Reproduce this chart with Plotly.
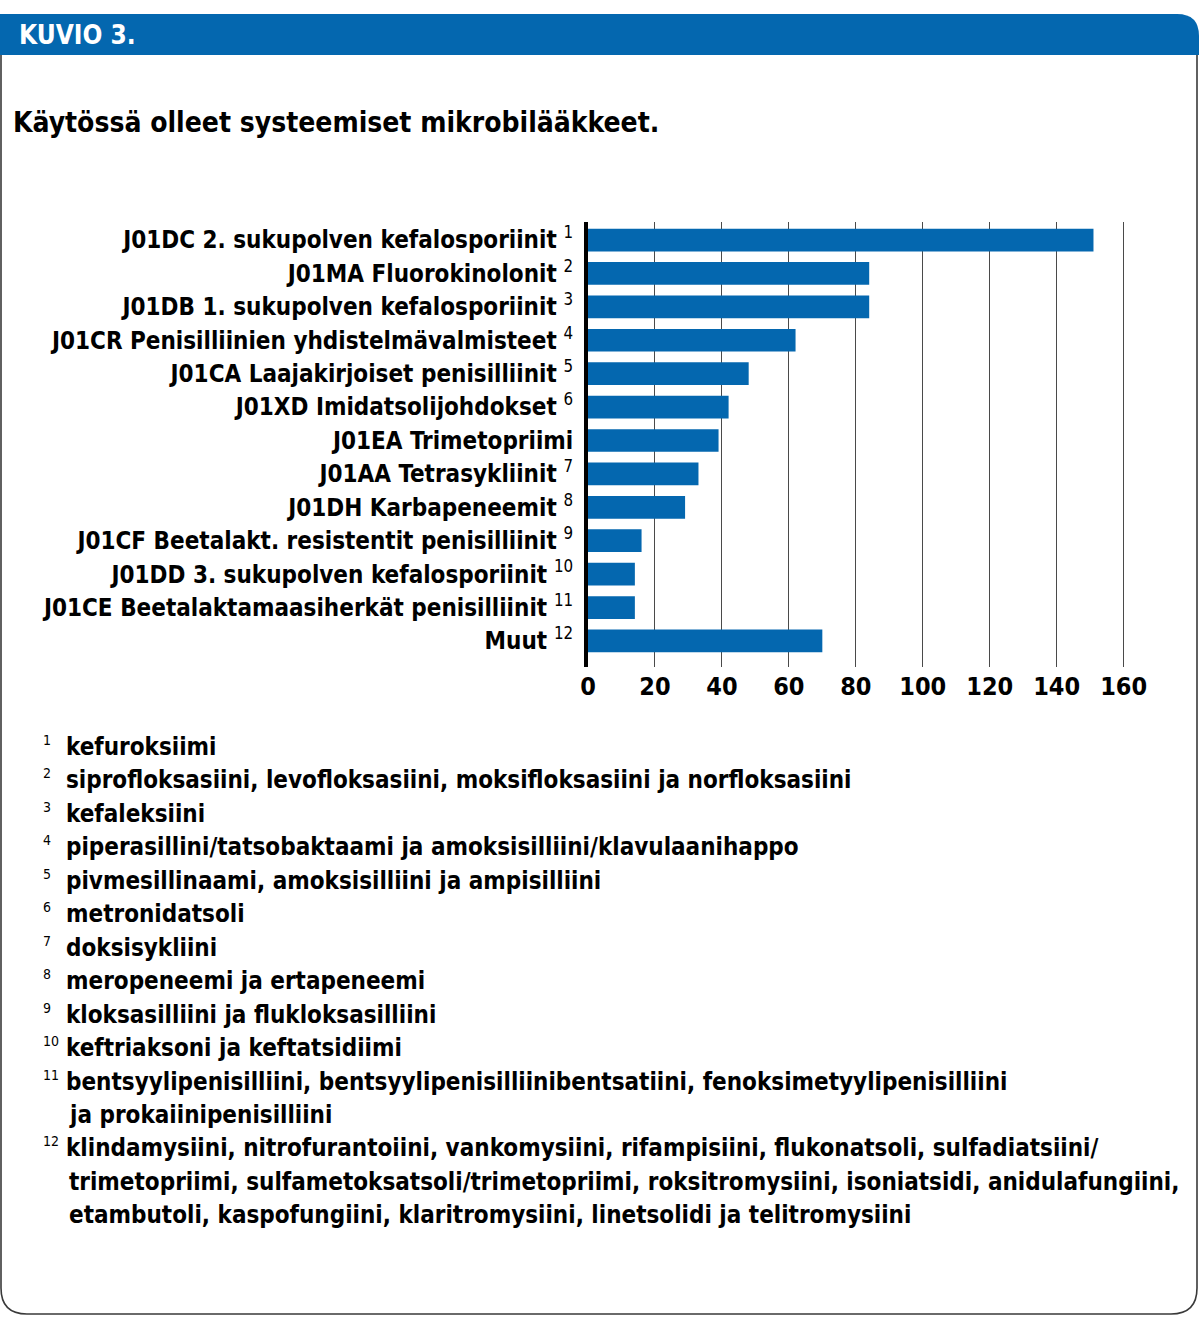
import plotly.graph_objects as go

# ---------------- data ----------------
categories = [
    "J01DC 2. sukupolven kefalosporiinit",
    "J01MA Fluorokinolonit",
    "J01DB 1. sukupolven kefalosporiinit",
    "J01CR Penisilliinien yhdistelmävalmisteet",
    "J01CA Laajakirjoiset penisilliinit",
    "J01XD Imidatsolijohdokset",
    "J01EA Trimetopriimi",
    "J01AA Tetrasykliinit",
    "J01DH Karbapeneemit",
    "J01CF Beetalakt. resistentit penisilliinit",
    "J01DD 3. sukupolven kefalosporiinit",
    "J01CE Beetalaktamaasiherkät penisilliinit",
    "Muut",
]
category_marks = ["1", "2", "3", "4", "5", "6", "", "7", "8", "9", "10", "11", "12"]
values = [151, 84, 84, 62, 48, 42, 39, 33, 29, 16, 14, 14, 70]
x_ticks = [0, 20, 40, 60, 80, 100, 120, 140, 160]

footnote_marks = ["1", "2", "3", "4", "5", "6", "7", "8", "9", "10", "11", "12"]
footnote_lines = [
    ["kefuroksiimi"],
    ["siprofloksasiini, levofloksasiini, moksifloksasiini ja norfloksasiini"],
    ["kefaleksiini"],
    ["piperasillini/tatsobaktaami ja amoksisilliini/klavulaanihappo"],
    ["pivmesillinaami, amoksisilliini ja ampisilliini"],
    ["metronidatsoli"],
    ["doksisykliini"],
    ["meropeneemi ja ertapeneemi"],
    ["kloksasilliini ja flukloksasilliini"],
    ["keftriaksoni ja keftatsidiimi"],
    ["bentsyylipenisilliini, bentsyylipenisilliinibentsatiini, fenoksimetyylipenisilliini",
     "ja prokaiinipenisilliini"],
    ["klindamysiini, nitrofurantoiini, vankomysiini, rifampisiini, flukonatsoli, sulfadiatsiini/",
     "trimetopriimi, sulfametoksatsoli/trimetopriimi, roksitromysiini, isoniatsidi, anidulafungiini,",
     "etambutoli, kaspofungiini, klaritromysiini, linetsolidi ja telitromysiini"],
]

header_text = "KUVIO 3."
title_text = "Käytössä olleet systeemiset mikrobilääkkeet."

# ---------------- style ----------------
W, H = 1199, 1319
FONT = "DejaVu Sans Condensed, Liberation Sans Narrow, sans-serif"
BLUE = "#0467af"


def px(x):
    return x / W


def py(y):
    return 1 - y / H


tick_text = [
    f"<b>{c}</b>" + (f" <sup>{m}</sup>" if m else "") for c, m in zip(categories, category_marks)
]

fig = go.Figure()
fig.add_trace(go.Bar(
    x=values,
    y=categories,
    orientation="h",
    marker=dict(color=BLUE, line=dict(width=0)),
    width=0.68,
    hoverinfo="x+y",
))

fig.update_layout(
    width=W,
    height=H,
    autosize=False,
    margin=dict(l=0, r=0, t=0, b=0, autoexpand=False),
    paper_bgcolor="white",
    plot_bgcolor="white",
    showlegend=False,
    font=dict(family=FONT, color="black"),
)

fig.update_xaxes(
    domain=[px(588), px(1137)],
    range=[0, 164],
    tickvals=x_ticks,
    ticktext=[f"<b>{t}</b>" for t in x_ticks],
    tickfont=dict(size=25, family=FONT, color="black"),
    showgrid=True,
    gridcolor="#4a4a4a",
    gridwidth=1,
    zeroline=False,
    showline=False,
    ticks="",
    ticklabelstandoff=2,
    automargin=False,
    fixedrange=True,
)
fig.update_yaxes(
    domain=[py(667), py(222)],
    type="category",
    categoryorder="array",
    categoryarray=categories,
    range=[12.78, -0.54],
    tickvals=categories,
    ticktext=tick_text,
    tickfont=dict(size=24, family=FONT, color="black"),
    showgrid=False,
    showline=True,
    linecolor="black",
    linewidth=4,
    ticks="",
    ticklabelstandoff=6,
    automargin=False,
    fixedrange=True,
)

# ---------------- frame & header ----------------
r_top = 22
r_bot = 26
header_path = (
    f"M {px(0)},{py(14)} L {px(W - r_top)},{py(14)} "
    f"Q {px(W)},{py(14)} {px(W)},{py(14 + r_top)} "
    f"L {px(W)},{py(55)} L {px(0)},{py(55)} Z"
)
frame_path = (
    f"M {px(1)},{py(55)} L {px(1)},{py(1314 - r_bot)} "
    f"Q {px(1)},{py(1314)} {px(1 + r_bot)},{py(1314)} "
    f"L {px(1197 - r_bot)},{py(1314)} "
    f"Q {px(1197)},{py(1314)} {px(1197)},{py(1314 - r_bot)} "
    f"L {px(1197)},{py(55)}"
)
fig.add_shape(type="path", xref="paper", yref="paper", path=header_path,
              fillcolor=BLUE, line=dict(width=0), layer="below")
fig.add_shape(type="path", xref="paper", yref="paper", path=frame_path,
              line=dict(color="#3a3a3a", width=1.6), layer="below")

annotations = []
annotations.append(dict(
    x=px(17), y=py(35), xref="paper", yref="paper", xanchor="left", yanchor="middle",
    text=f"<b>{header_text}</b>", showarrow=False,
    font=dict(family=FONT, size=26, color="white"),
))
annotations.append(dict(
    x=px(11), y=py(122), xref="paper", yref="paper", xanchor="left", yanchor="middle",
    text=f"<b>{title_text}</b>", showarrow=False,
    font=dict(family=FONT, size=28, color="black"),
))

# footnotes
line_y0 = 747
line_step = 33.45
line_idx = 0
for mark, lines in zip(footnote_marks, footnote_lines):
    annotations.append(dict(
        x=px(41), y=py(line_y0 + line_idx * line_step - 7), xref="paper", yref="paper",
        xanchor="left", yanchor="middle", text=mark, showarrow=False,
        font=dict(family=FONT, size=14, color="black"),
    ))
    for j, ln in enumerate(lines):
        annotations.append(dict(
            x=px(64 if j == 0 else 67), y=py(line_y0 + line_idx * line_step),
            xref="paper", yref="paper",
            xanchor="left", yanchor="middle", text=f"<b>{ln}</b>", showarrow=False,
            font=dict(family=FONT, size=24, color="black"),
        ))
        line_idx += 1

fig.update_layout(annotations=annotations)

fig.write_html(
    "out.html",
    config={"displayModeBar": False},
    post_script="document.body.style.margin='0';document.body.style.overflow='hidden';",
)
